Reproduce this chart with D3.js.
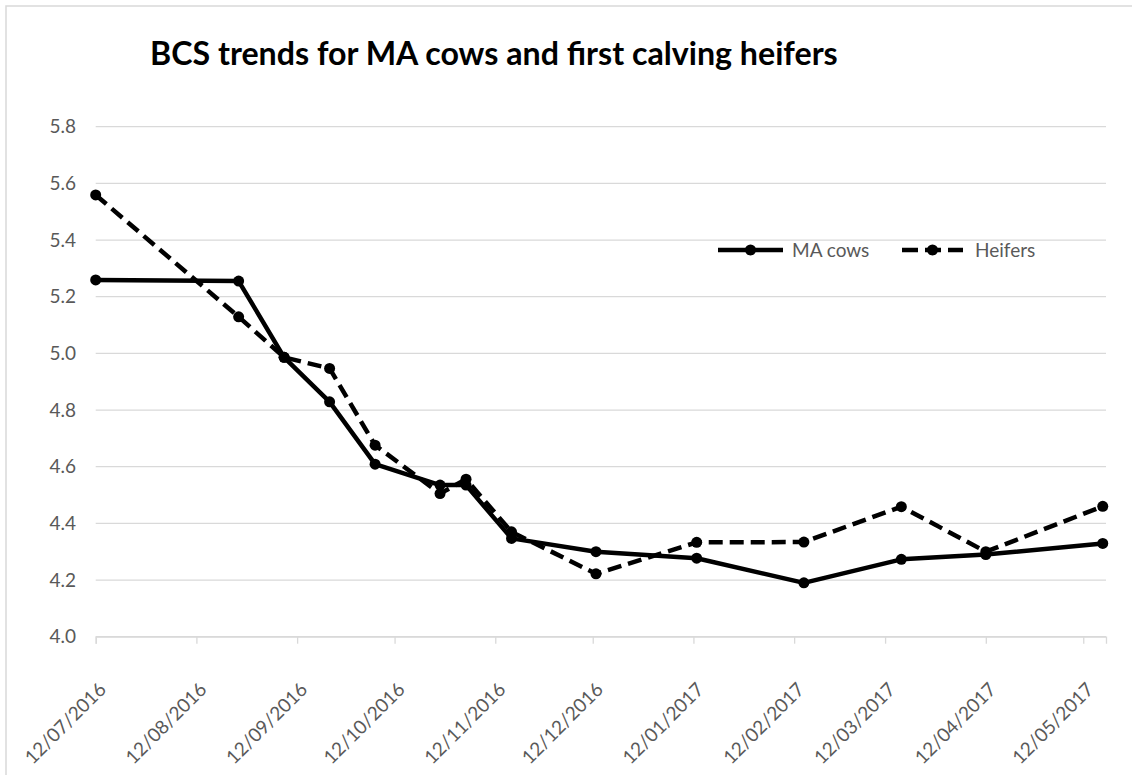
<!DOCTYPE html>
<html>
<head>
<meta charset="utf-8">
<script src="https://cdn.jsdelivr.net/npm/d3@7/dist/d3.min.js"></script>
<style>
  body { margin: 0; background: #fff; }
  svg text { font-family: Lato, "Open Sans", sans-serif; }
  .grid line { stroke: #d9d9d9; stroke-width: 1.3; }
  .tick-label { fill: #595959; font-size: 19px; }
</style>
</head>
<body>
<div id="chart"></div>
<script>
var width = 1132;
var height = 775;

// sampling dates (dd/mm/yyyy in the original sheet)
var dates = ["2016-07-12", "2016-08-25", "2016-09-08", "2016-09-22", "2016-10-06",
             "2016-10-26", "2016-11-03", "2016-11-17", "2016-12-13", "2017-01-13",
             "2017-02-15", "2017-03-17", "2017-04-12", "2017-05-18"];
var maCows  = [5.259, 5.255, 4.986, 4.829, 4.609, 4.535, 4.535, 4.347, 4.300, 4.277, 4.190, 4.273, 4.290, 4.329];
var heifers = [5.559, 5.129, 4.986, 4.947, 4.676, 4.505, 4.556, 4.370, 4.222, 4.333, 4.334, 4.459, 4.300, 4.460];
var seriesNames = ["MA cows", "Heifers"];

var yTicks = [4.0, 4.2, 4.4, 4.6, 4.8, 5.0, 5.2, 5.4, 5.6, 5.8];
var xTickLabels = ["12/07/2016", "12/08/2016", "12/09/2016", "12/10/2016", "12/11/2016", "12/12/2016",
                   "12/01/2017", "12/02/2017", "12/03/2017", "12/04/2017", "12/05/2017"];
var axisStart = "2016-07-12";
var axisEnd = "2017-05-19";

var plotLeft = 95.7, plotRight = 1106, plotTop = 126.7, plotBottom = 636.7;

var parseIso = d3.utcParse("%Y-%m-%d");
var parseLabel = d3.utcParse("%d/%m/%Y");

var xScale = d3.scaleUtc()
    .domain([parseIso(axisStart), parseIso(axisEnd)])
    .range([plotLeft, plotRight]);

var yScale = d3.scaleLinear()
    .domain([4.0, 5.8])
    .range([plotBottom, plotTop]);

var svg = d3.select("#chart")
    .append("svg")
    .attr("width", width)
    .attr("height", height);

svg.append("rect")
    .attr("width", width).attr("height", height)
    .attr("fill", "#fff");

// outer chart border (runs off the picture on the right and bottom)
svg.append("rect")
    .attr("x", 6).attr("y", 6)
    .attr("width", width + 20).attr("height", height + 20)
    .attr("fill", "none")
    .attr("stroke", "#d9d9d9")
    .attr("stroke-width", 1.5);

// title
var title = svg.append("text")
    .attr("x", 150)
    .attr("y", 65)
    .attr("font-weight", "bold")
    .attr("font-size", 30)
    .attr("fill", "#000")
    .text("BCS trends for MA cows and first calving heifers");
var tw = title.node().getComputedTextLength();
title.attr("font-size", 30 * 688 / tw);

// horizontal gridlines
svg.append("g")
    .attr("class", "grid")
    .selectAll("line")
    .data(yTicks)
    .enter().append("line")
    .attr("x1", plotLeft).attr("x2", plotRight)
    .attr("y1", function(d) { return yScale(d); })
    .attr("y2", function(d) { return yScale(d); });

// y labels
svg.append("g")
    .selectAll("text")
    .data(yTicks)
    .enter().append("text")
    .attr("class", "tick-label")
    .attr("x", 76)
    .attr("y", function(d) { return yScale(d); })
    .attr("dy", "0.35em")
    .attr("text-anchor", "end")
    .text(function(d) { return d.toFixed(1); });

// x axis
var tickDates = xTickLabels.map(function(s) { return parseLabel(s); });
var xAxis = d3.axisBottom(xScale)
    .tickValues(tickDates)
    .tickSize(7)
    .tickFormat(d3.utcFormat("%d/%m/%Y"));

var gx = svg.append("g")
    .attr("transform", "translate(0," + plotBottom + ")")
    .call(xAxis);
gx.select(".domain").attr("stroke", "#d9d9d9").attr("stroke-width", 1.3);
gx.selectAll(".tick line").attr("stroke", "#d9d9d9").attr("stroke-width", 1.3);
gx.selectAll(".tick text")
    .attr("class", "tick-label")
    .attr("fill", "#595959")
    .attr("text-anchor", "end")
    .attr("x", 0).attr("y", 0).attr("dy", 0)
    .attr("transform", "translate(11,54) rotate(-45)");

// lines
var rows = dates.map(function(d, i) {
    return { date: parseIso(d), ma: maCows[i], hf: heifers[i] };
});

function drawSeries(key, dash) {
    var line = d3.line()
        .x(function(d) { return xScale(d.date); })
        .y(function(d) { return yScale(d[key]); });
    svg.append("path")
        .datum(rows)
        .attr("fill", "none")
        .attr("stroke", "#000")
        .attr("stroke-width", 4.5)
        .attr("stroke-linejoin", "round")
        .attr("stroke-dasharray", dash)
        .attr("d", line);
    svg.append("g")
        .selectAll("circle")
        .data(rows)
        .enter().append("circle")
        .attr("cx", function(d) { return xScale(d.date); })
        .attr("cy", function(d) { return yScale(d[key]); })
        .attr("r", 5.5)
        .attr("fill", "#000");
}
drawSeries("ma", null);
drawSeries("hf", "14,7");

// legend
var legend = [
    { name: seriesNames[0], x1: 718, x2: 783, tx: 792, dash: null },
    { name: seriesNames[1], x1: 902, x2: 963, tx: 975, dash: "16,7" }
];
var lg = svg.append("g");
legend.forEach(function(l) {
    lg.append("line")
        .attr("x1", l.x1).attr("x2", l.x2)
        .attr("y1", 250).attr("y2", 250)
        .attr("stroke", "#000")
        .attr("stroke-width", 4.5)
        .attr("stroke-dasharray", l.dash);
    lg.append("circle")
        .attr("cx", (l.x1 + l.x2) / 2).attr("cy", 250)
        .attr("r", 5.5).attr("fill", "#000");
    lg.append("text")
        .attr("class", "tick-label")
        .attr("x", l.tx).attr("y", 250)
        .attr("dy", "0.35em")
        .text(l.name);
});
</script>
</body>
</html>
